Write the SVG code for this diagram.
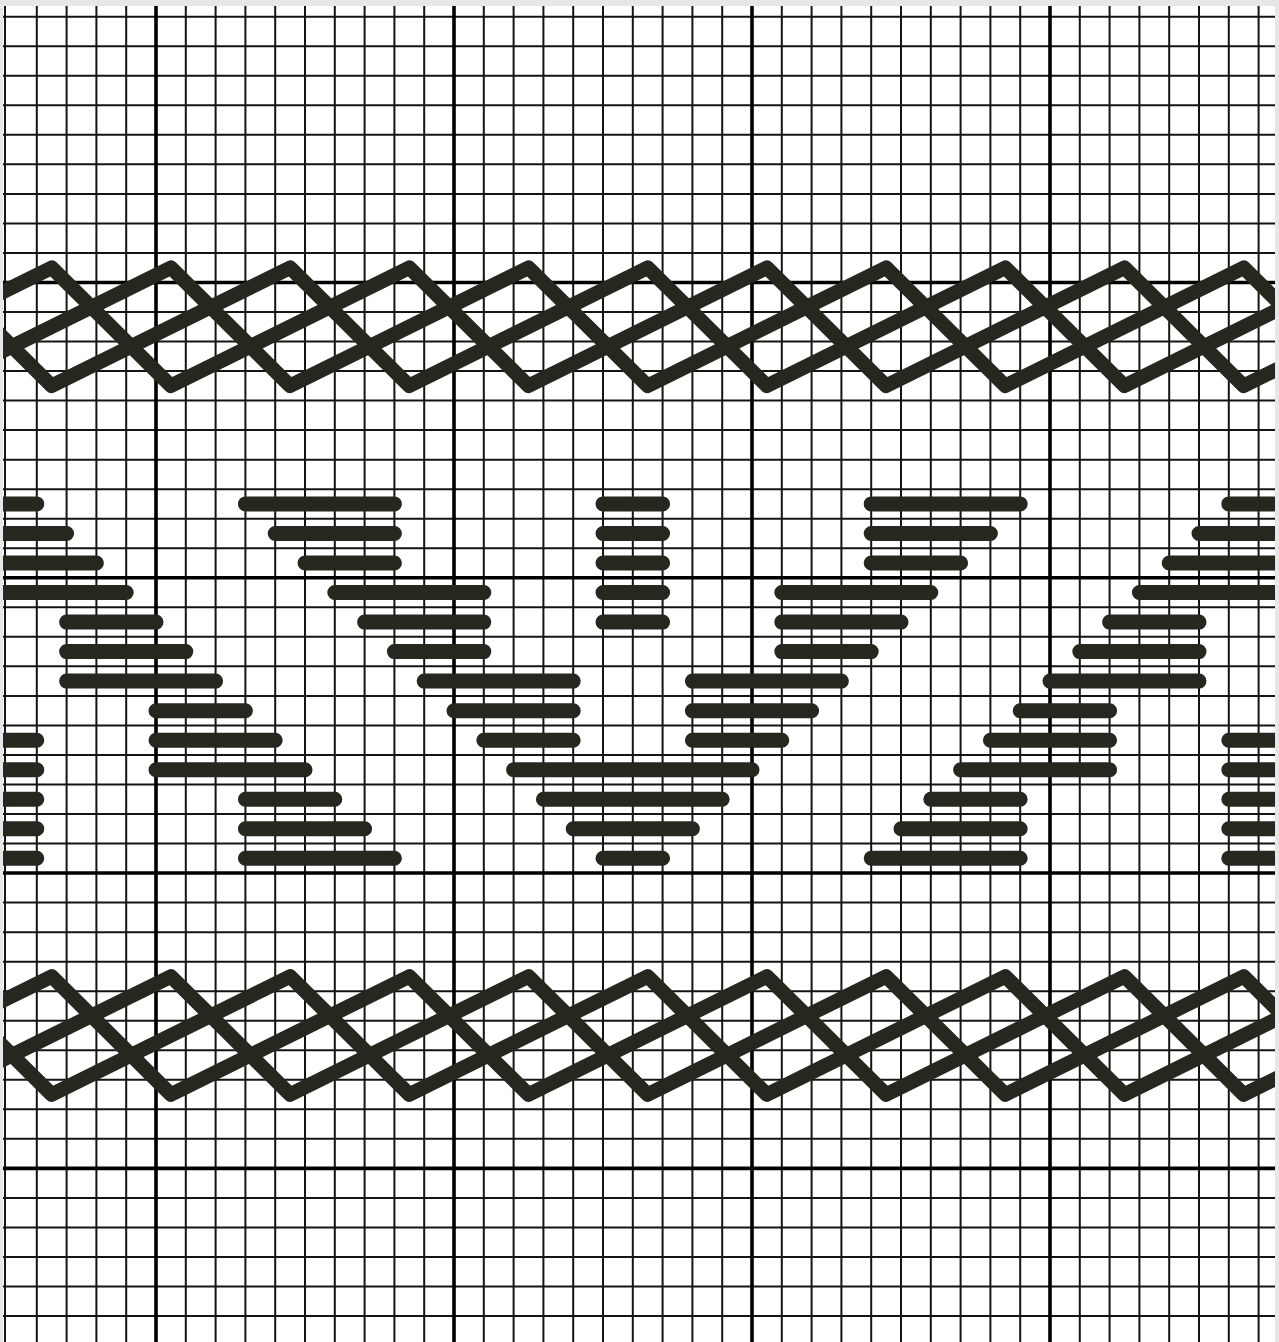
<svg xmlns="http://www.w3.org/2000/svg" xmlns:xlink="http://www.w3.org/1999/xlink" width="1279" height="1342" viewBox="0 0 1279 1342">
<style>
.minor{stroke:#141414;stroke-width:2;fill:none}
.major{stroke:#000;stroke-width:3.6;fill:none}
.bar{stroke:#26271f;stroke-width:15;stroke-linecap:round;fill:none}
.lat{stroke:#26271f;stroke-width:14.5;stroke-linecap:round;stroke-linejoin:round;fill:none}
</style>
<defs>
<clipPath id="area"><rect x="3" y="6" width="1272" height="1336"/></clipPath>
<path id="zig" d="M0,0 l119.2,118.1 l238.4,-118.1 l119.2,118.1 l238.4,-118.1 l119.2,118.1 l238.4,-118.1 l119.2,118.1 l238.4,-118.1 l119.2,118.1 l238.4,-118.1"/>
</defs>
<rect x="0" y="0" width="1279" height="1342" fill="#e6e7e9"/>
<rect x="3" y="6" width="1272" height="1336" fill="#fff"/>
<g clip-path="url(#area)">
<g id="grid">
<path class="minor" d="M5,6V1342M36.8,6V1342M66.6,6V1342M96.4,6V1342M126.2,6V1342M185.8,6V1342M215.6,6V1342M245.4,6V1342M275.2,6V1342M305,6V1342M334.8,6V1342M364.6,6V1342M394.4,6V1342M424.2,6V1342M483.8,6V1342M513.6,6V1342M543.4,6V1342M573.2,6V1342M603,6V1342M632.8,6V1342M662.6,6V1342M692.4,6V1342M722.2,6V1342M781.8,6V1342M811.6,6V1342M841.4,6V1342M871.2,6V1342M901,6V1342M930.8,6V1342M960.6,6V1342M990.4,6V1342M1020.2,6V1342M1079.8,6V1342M1109.6,6V1342M1139.4,6V1342M1169.2,6V1342M1199,6V1342M1228.8,6V1342M1258.6,6V1342"/>
<path class="minor" d="M3,16.7H1275M3,46.23H1275M3,75.76H1275M3,105.29H1275M3,134.82H1275M3,164.35H1275M3,193.88H1275M3,223.41H1275M3,252.94H1275M3,312H1275M3,341.53H1275M3,371.06H1275M3,400.59H1275M3,430.12H1275M3,459.65H1275M3,489.18H1275M3,518.71H1275M3,548.24H1275M3,607.3H1275M3,636.83H1275M3,666.36H1275M3,695.89H1275M3,725.42H1275M3,754.95H1275M3,784.48H1275M3,814.01H1275M3,843.54H1275M3,902.6H1275M3,932.13H1275M3,961.66H1275M3,991.19H1275M3,1020.72H1275M3,1050.25H1275M3,1079.78H1275M3,1109.31H1275M3,1138.84H1275M3,1197.9H1275M3,1227.43H1275M3,1256.96H1275M3,1286.49H1275M3,1316.02H1275"/>
<path class="major" d="M156,6V1342M454,6V1342M752,6V1342M1050,6V1342M3,282.47H1275M3,577.77H1275M3,873.07H1275M3,1168.37H1275"/>
</g>
<g id="top-band">
<use xlink:href="#zig" href="#zig" class="lat" transform="translate(-305.9,267.7)"/>
<use xlink:href="#zig" href="#zig" class="lat" transform="translate(-186.7,267.7)"/>
<use xlink:href="#zig" href="#zig" class="lat" transform="translate(-67.5,267.7)"/>
</g>
<g id="bottom-band">
<use xlink:href="#zig" href="#zig" class="lat" transform="translate(-305.9,976.4)"/>
<use xlink:href="#zig" href="#zig" class="lat" transform="translate(-186.7,976.4)"/>
<use xlink:href="#zig" href="#zig" class="lat" transform="translate(-67.5,976.4)"/>
</g>
<g id="bars">
<path class="bar" d="M-22.8,503.9H36.8M245.4,503.9H394.4M603,503.9H662.6M871.2,503.9H1020.2M1228.8,503.9H1288.4
M-52.6,533.5H66.6M275.2,533.5H394.4M603,533.5H662.6M871.2,533.5H990.4M1199,533.5H1318.2
M-82.4,563H96.4M305,563H394.4M603,563H662.6M871.2,563H960.6M1169.2,563H1348
M-112.2,592.5H126.2M334.8,592.5H483.8M603,592.5H662.6M781.8,592.5H930.8M1139.4,592.5H1377.8
M66.6,622.1H156M364.6,622.1H483.8M603,622.1H662.6M781.8,622.1H901M1109.6,622.1H1199
M66.6,651.6H185.8M394.4,651.6H483.8M781.8,651.6H871.2M1079.8,651.6H1199
M66.6,681.1H215.6M424.2,681.1H573.2M692.4,681.1H841.4M1050,681.1H1199
M156,710.7H245.4M454,710.7H573.2M692.4,710.7H811.6M1020.2,710.7H1109.6
M-22.8,740.2H36.8M156,740.2H275.2M483.8,740.2H573.2M692.4,740.2H781.8M990.4,740.2H1109.6M1228.8,740.2H1288.4
M-22.8,769.7H36.8M156,769.7H305M513.6,769.7H752M960.6,769.7H1109.6M1228.8,769.7H1288.4
M-22.8,799.2H36.8M245.4,799.2H334.8M543.4,799.2H722.2M930.8,799.2H1020.2M1228.8,799.2H1288.4
M-22.8,828.8H36.8M245.4,828.8H364.6M573.2,828.8H692.4M901,828.8H1020.2M1228.8,828.8H1288.4
M-22.8,858.3H36.8M245.4,858.3H394.4M603,858.3H662.6M871.2,858.3H1020.2M1228.8,858.3H1288.4"/>
</g>
</g>
</svg>
